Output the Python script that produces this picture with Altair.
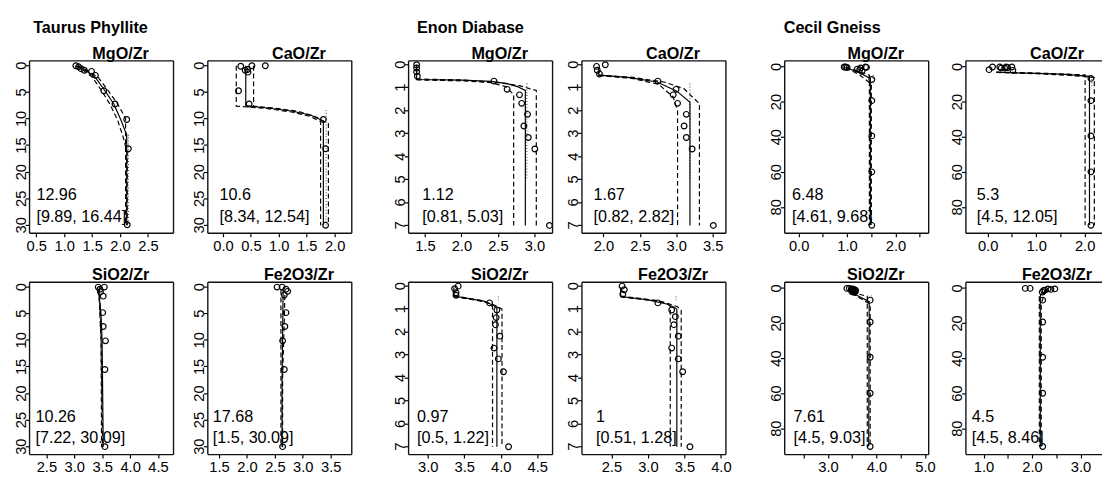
import altair as alt
import pandas as pd

FONT = "Liberation Sans"

# ---------------- Taurus Phyllite ----------------
tp_mgo_x = [1.20, 1.25, 1.29, 1.35, 1.48, 1.55, 1.70, 1.90, 2.11, 2.14, 2.12]
tp_mgo_d = [0.0, 0.2, 0.55, 0.85, 1.05, 1.8, 4.7, 7.2, 10.1, 15.6, 29.9]
tp_mgo_fit = [[1.21, 0.0], [1.39, 1.0], [1.55, 2.2], [1.72, 4.7], [1.88, 7.2], [2.01, 10.3], [2.08, 12.2], [2.11, 12.96], [2.11, 30.0]]
tp_mgo_lo = [[1.20, 0.0], [1.35, 1.0], [1.50, 2.2], [1.66, 4.7], [1.81, 7.2], [1.95, 10.3], [2.05, 13.5], [2.12, 16.44], [2.12, 30.0]]
tp_mgo_hi = [[1.23, 0.0], [1.43, 1.0], [1.60, 2.2], [1.78, 4.7], [1.95, 7.2], [2.09, 9.89], [2.09, 30.0]]
tp_mgo_dot = [[2.14, 12.96], [2.14, 30.0]]
tp_mgo_txt = ["12.96", "[9.89, 16.44]"]

tp_cao_x = [0.31, 0.39, 0.43, 0.44, 0.51, 0.75, 0.27, 0.46, 1.79, 1.83, 1.83]
tp_cao_d = [0.1, 0.85, 0.7, 1.2, 0.0, 0.0, 4.7, 7.2, 10.1, 15.6, 30.0]
tp_cao_fit = [[0.40, 0.0], [0.40, 7.5], [0.75, 7.9], [1.22, 8.5], [1.57, 9.3], [1.79, 10.4], [1.79, 30.0]]
tp_cao_lo = [[0.23, 0.0], [0.23, 7.6], [0.75, 8.0], [1.22, 8.7], [1.55, 9.5], [1.74, 10.5], [1.74, 30.0]]
tp_cao_hi = [[0.54, 0.0], [0.54, 7.6], [0.95, 8.0], [1.35, 8.6], [1.65, 9.6], [1.88, 10.9], [1.88, 30.0]]
tp_cao_dot = [[1.84, 8.3], [1.84, 30.0]]
tp_cao_txt = ["10.6", "[8.34, 12.54]"]

tp_sio2_x = [3.42, 3.53, 3.45, 3.46, 3.51, 3.50, 3.51, 3.55, 3.54, 3.54]
tp_sio2_d = [0.0, 0.0, 0.4, 0.9, 1.7, 4.8, 7.4, 10.1, 15.5, 30.0]
tp_sio2_fit = [[3.42, 0.3], [3.47, 5.0], [3.49, 10.26], [3.51, 30.0]]
tp_sio2_lo = [[3.44, 0.0], [3.47, 7.22], [3.48, 30.0]]
tp_sio2_hi = [[3.43, 0.5], [3.47, 10.0], [3.50, 30.09]]
tp_sio2_dot = []
tp_sio2_txt = ["10.26", "[7.22, 30.09]"]

tp_fe_x = [2.53, 2.62, 2.69, 2.72, 2.66, 2.69, 2.67, 2.63, 2.66, 2.63]
tp_fe_d = [0.0, 0.0, 0.4, 0.8, 1.5, 4.8, 7.4, 10.1, 15.5, 30.0]
tp_fe_fit = [[2.64, 0.3], [2.62, 17.68], [2.62, 30.0]]
tp_fe_lo = [[2.60, 0.5], [2.60, 30.0]]
tp_fe_hi = [[2.67, 1.5], [2.66, 6.0], [2.63, 17.0], [2.63, 30.09]]
tp_fe_dot = []
tp_fe_txt = ["17.68", "[1.5, 30.09]"]

# ---------------- Enon Diabase ----------------
ed_mgo_x = [1.38, 1.38, 1.38, 1.39, 2.44, 2.62, 2.79, 2.82, 2.90, 2.85, 2.91, 3.00, 3.20]
ed_mgo_d = [0.0, 0.14, 0.31, 0.5, 0.71, 1.07, 1.31, 1.68, 2.16, 2.67, 3.17, 3.67, 7.0]
ed_mgo_fit = [[1.38, 0.0], [1.38, 0.64], [2.0, 0.67], [2.4, 0.72], [2.62, 0.82], [2.76, 0.95], [2.87, 1.12], [2.87, 7.0]]
ed_mgo_lo = [[1.38, 0.66], [2.0, 0.70], [2.4, 0.78], [2.6, 0.95], [2.71, 1.3], [2.71, 7.0]]
ed_mgo_hi = [[1.38, 0.62], [2.0, 0.66], [2.52, 0.78], [2.8, 0.92], [3.02, 1.12], [3.02, 7.0]]
ed_mgo_dot = [[2.89, 0.81], [2.89, 5.03]]
ed_mgo_txt = ["1.12", "[0.81, 5.03]"]

ed_cao_x = [1.90, 2.02, 1.91, 1.94, 2.74, 2.99, 2.95, 3.01, 3.13, 3.10, 3.13, 3.21, 3.50]
ed_cao_d = [0.07, 0.0, 0.24, 0.4, 0.71, 1.07, 1.31, 1.68, 2.16, 2.67, 3.17, 3.67, 7.0]
ed_cao_fit = [[1.93, 0.1], [1.93, 0.45], [2.33, 0.55], [2.73, 0.75], [3.0, 1.15], [3.18, 1.63], [3.18, 7.0]]
ed_cao_lo = [[1.93, 0.47], [2.4, 0.60], [2.75, 0.85], [2.95, 1.4], [3.01, 2.0], [3.01, 7.0]]
ed_cao_hi = [[1.93, 0.45], [2.4, 0.55], [2.84, 0.76], [3.1, 1.05], [3.31, 1.7], [3.31, 7.0]]
ed_cao_dot = [[3.18, 0.82], [3.18, 5.0]]
ed_cao_txt = ["1.67", "[0.82, 2.82]"]

ed_sio2_x = [3.41, 3.36, 3.38, 3.38, 3.84, 3.94, 3.93, 3.92, 3.98, 3.90, 3.96, 4.03, 4.10]
ed_sio2_d = [0.0, 0.11, 0.29, 0.4, 0.73, 1.04, 1.37, 1.68, 2.18, 2.70, 3.17, 3.73, 7.0]
ed_sio2_fit = [[3.35, 0.05], [3.35, 0.43], [3.76, 0.65], [3.90, 0.85], [3.94, 0.97], [3.94, 7.0]]
ed_sio2_lo = [[3.35, 0.42], [3.72, 0.62], [3.85, 0.78], [3.88, 0.9], [3.88, 7.0]]
ed_sio2_hi = [[3.35, 0.45], [3.80, 0.70], [3.96, 0.9], [4.01, 1.0], [4.01, 7.0]]
ed_sio2_dot = [[3.96, 0.45], [3.96, 0.62]]
ed_sio2_txt = ["0.97", "[0.5, 1.22]"]

ed_fe_x = [2.64, 2.67, 2.65, 3.13, 3.32, 3.37, 3.35, 3.41, 3.32, 3.41, 3.47, 3.57]
ed_fe_d = [0.0, 0.16, 0.35, 0.73, 1.04, 1.33, 1.68, 2.18, 2.70, 3.17, 3.73, 7.0]
ed_fe_fit = [[2.62, 0.05], [2.62, 0.45], [3.0, 0.6], [3.25, 0.78], [3.35, 0.92], [3.39, 1.0], [3.39, 7.0]]
ed_fe_lo = [[2.62, 0.43], [3.1, 0.62], [3.28, 0.8], [3.30, 0.9], [3.30, 7.0]]
ed_fe_hi = [[2.62, 0.47], [3.2, 0.68], [3.40, 0.9], [3.45, 1.05], [3.45, 7.0]]
ed_fe_dot = [[3.38, 0.45], [3.38, 0.62]]
ed_fe_txt = ["1", "[0.51, 1.28]"]

# ---------------- Cecil Gneiss ----------------
cg_mgo_x = [0.93, 0.96, 0.99, 1.27, 1.37, 1.39, 1.25, 1.30, 1.20, 1.50, 1.50, 1.50, 1.50, 1.50]
cg_mgo_d = [0.0, 0.0, 0.3, 0.5, 0.0, 0.2, 1.5, 2.4, 1.2, 7.1, 19.2, 39.3, 59.8, 90.3]
cg_mgo_fit = [[0.96, 0.3], [1.22, 3.0], [1.47, 6.48], [1.47, 90.3]]
cg_mgo_lo = [[0.96, 0.2], [1.27, 2.8], [1.45, 4.61], [1.45, 90.3]]
cg_mgo_hi = [[0.96, 0.4], [1.25, 4.5], [1.49, 9.68], [1.49, 90.3]]
cg_mgo_dot = [[1.53, 4.6], [1.53, 9.7]]
cg_mgo_txt = ["6.48", "[4.61, 9.68]"]

cg_cao_x = [0.02, 0.09, 0.24, 0.27, 0.34, 0.37, 0.40, 0.49, 0.51, 2.12, 2.12, 2.12, 2.12, 2.12]
cg_cao_d = [1.5, 0.0, 0.0, 0.6, 0.6, 0.0, 0.3, 0.0, 1.9, 6.5, 19.2, 39.3, 59.8, 90.3]
cg_cao_fit = [[0.17, 3.0], [1.0, 3.6], [1.6, 4.2], [2.09, 5.3], [2.09, 90.3]]
cg_cao_lo = [[0.17, 2.9], [1.0, 3.4], [2.0, 4.5], [2.0, 90.3]]
cg_cao_hi = [[0.17, 3.1], [1.0, 3.8], [1.7, 4.8], [2.19, 6.0], [2.19, 90.3]]
cg_cao_dot = [[2.14, 5.3], [2.14, 12.05]]
cg_cao_txt = ["5.3", "[4.5, 12.05]"]

cg_sio2_x = [3.38, 3.43, 3.47, 3.50, 3.53, 3.55, 3.52, 3.50, 3.54, 3.56, 3.48, 3.86, 3.86, 3.86, 3.86, 3.86]
cg_sio2_d = [0.0, 0.0, 0.5, 1.0, 1.5, 2.0, 2.3, 0.3, 0.8, 1.2, 1.8, 6.7, 19.2, 39.3, 59.8, 90.2]
cg_sio2_fit = [[3.48, 0.5], [3.48, 2.5], [3.84, 7.61], [3.83, 90.2]]
cg_sio2_lo = [[3.48, 2.3], [3.80, 4.5], [3.80, 90.2]]
cg_sio2_hi = [[3.48, 2.7], [3.86, 9.03], [3.86, 90.2]]
cg_sio2_dot = [[3.88, 4.0], [3.88, 5.5]]
cg_sio2_txt = ["7.61", "[4.5, 9.03]"]

cg_fe_x = [1.85, 1.95, 2.26, 2.32, 2.38, 2.46, 2.20, 2.23, 2.21, 2.21, 2.21, 2.21, 2.21]
cg_fe_d = [0.0, 0.0, 1.0, 0.3, 0.6, 0.3, 2.1, 1.2, 6.7, 19.2, 39.3, 59.8, 90.2]
cg_fe_fit = [[2.30, 0.8], [2.17, 3.5], [2.16, 4.5], [2.16, 90.2]]
cg_fe_lo = [[2.14, 4.5], [2.14, 90.2]]
cg_fe_hi = [[2.28, 1.0], [2.18, 8.46], [2.18, 90.2]]
cg_fe_dot = []
cg_fe_txt = ["4.5", "[4.5, 8.46]"]

# ---------------- layout helpers ----------------
H = 176
TP_Y = [-0.92, 31.49]
ED_Y = [-0.171, 7.34]
CG_Y = [-3.52, 94.8]
TP_YT = [0, 5, 10, 15, 20, 25, 30]
ED_YT = [0, 1, 2, 3, 4, 5, 6, 7]
CG_YT = [0, 20, 40, 60, 80]


def make_lines(lines):
    rows = []
    for k, line in enumerate(lines):
        for i, (x, d) in enumerate(line):
            rows.append({"x": x, "d": d, "s": k, "i": i})
    return pd.DataFrame(rows)


def frame_rule(one, **enc):
    return alt.Chart(one).mark_rule(color="#111111", strokeWidth=1.4).encode(**enc)


def panel(px, pdp, fit, lo, hi, dot, txt, title, lay):
    W = lay["w"]
    xa = dict(values=lay["xt"], grid=False, domain=False, tickSize=4, tickColor="black",
              tickWidth=1.2, labelColor="black", labelFont=FONT, labelFontSize=15,
              labelPadding=2, labelOverlap=False, labelFlush=False, minExtent=lay["xe"],
              translate=0)
    if lay.get("half"):
        xa["labelExpr"] = "abs(datum.value - round(datum.value)) < 0.01 ? format(datum.value, '.1f') : ''"
    else:
        xa["format"] = ".1f"
    X = alt.X("x:Q", title=None,
              scale=alt.Scale(domain=lay["xd"], nice=False, zero=False),
              axis=alt.Axis(**xa))
    Y = alt.Y("d:Q", title=None,
              scale=alt.Scale(domain=lay["yd"], nice=False, zero=False, reverse=True),
              axis=alt.Axis(values=lay["yt"], format="d", grid=False, domain=False,
                            tickSize=4, tickColor="black", tickWidth=1.2, labelColor="black",
                            labelFont=FONT, labelFontSize=15, labelAngle=270,
                            labelAlign="center", labelBaseline="alphabetic",
                            labelPadding=0, labelOverlap=False, minExtent=lay["ye"],
                            translate=0))
    one = pd.DataFrame({"k": [0]})
    layers = [alt.Chart(one).mark_rule(opacity=0).encode(
        x=alt.value(W / 2), y=alt.value(-lay["te"]), y2=alt.value(0))]
    for group, dash, col in [([lo, hi], [5, 3], "black"), ([dot], [1, 2], "#555555"),
                             ([fit], None, "black")]:
        lines = [l for l in group if l]
        if not lines:
            continue
        kw = dict(color=col, strokeWidth=1.2, clip=True)
        if dash:
            kw["strokeDash"] = dash
        layers.append(alt.Chart(make_lines(lines)).mark_line(**kw).encode(
            x=X, y=Y, detail="s:N", order="i:Q"))
    layers.append(alt.Chart(pd.DataFrame({"x": px, "d": pdp})).mark_point(
        shape="circle", filled=False, color="black", size=34, strokeWidth=1.2,
        opacity=1, clip=True).encode(x=X, y=Y))
    for j, t in enumerate(txt):
        layers.append(alt.Chart(one).mark_text(
            align="left", baseline="middle", font=FONT, fontSize=16.5, color="black").encode(
            x=alt.value(lay["ax"]), y=alt.value(137.5 if j == 0 else 159.5), text=alt.value(t)))
    layers.append(alt.Chart(one).mark_text(
        align="center", baseline="alphabetic", font=FONT, fontSize=16.5,
        fontWeight="bold", color="black").encode(
        x=alt.value(93), y=alt.value(-2), text=alt.value(title)))
    if lay.get("gt"):
        layers.append(alt.Chart(one).mark_text(
            align="left", baseline="middle", font=FONT, fontSize=16.5,
            fontWeight="bold", color="black").encode(
            x=alt.value(lay["gx"]), y=alt.value(-33.5), text=alt.value(lay["gt"])))
    # plot frame (box)
    layers.append(frame_rule(one, x=alt.value(0), y=alt.value(0), y2=alt.value(H)))
    layers.append(frame_rule(one, x=alt.value(0), x2=alt.value(W), y=alt.value(0)))
    layers.append(frame_rule(one, x=alt.value(0), x2=alt.value(W), y=alt.value(H)))
    if not lay.get("last"):
        layers.append(frame_rule(one, x=alt.value(W), y=alt.value(0), y2=alt.value(H)))
    return alt.layer(*layers).properties(width=W, height=H)


def top(d):
    d.update(xe=24, te=48.5)
    return d


def bot(d):
    d.update(xe=0, te=22)
    return d


col_ext = [21.5, 32.0, 55.0, 27.0, 52.27, 28.9]

tp1 = panel(tp_mgo_x, tp_mgo_d, tp_mgo_fit, tp_mgo_lo, tp_mgo_hi, tp_mgo_dot, tp_mgo_txt, "MgO/Zr",
            top(dict(w=147, xd=[0.37, 2.949], xt=[0.5, 1.0, 1.5, 2.0, 2.5], yd=TP_Y, yt=TP_YT,
                     ye=col_ext[0], ax=7, gt="Taurus Phyllite", gx=3.7)))
tp3 = panel(tp_sio2_x, tp_sio2_d, tp_sio2_fit, tp_sio2_lo, tp_sio2_hi, tp_sio2_dot, tp_sio2_txt, "SiO2/Zr",
            bot(dict(w=147, xd=[2.19, 4.769], xt=[2.5, 3.0, 3.5, 4.0, 4.5], yd=TP_Y, yt=TP_YT,
                     ye=col_ext[0], ax=6)))
tp2 = panel(tp_cao_x, tp_cao_d, tp_cao_fit, tp_cao_lo, tp_cao_hi, tp_cao_dot, tp_cao_txt, "CaO/Zr",
            top(dict(w=147, xd=[-0.28, 2.299], xt=[0.0, 0.5, 1.0, 1.5, 2.0], yd=TP_Y, yt=TP_YT,
                     ye=col_ext[1], ax=12)))
tp4 = panel(tp_fe_x, tp_fe_d, tp_fe_fit, tp_fe_lo, tp_fe_hi, tp_fe_dot, tp_fe_txt, "Fe2O3/Zr",
            bot(dict(w=147, xd=[1.29, 3.869], xt=[1.5, 2.0, 2.5, 3.0, 3.5], yd=TP_Y, yt=TP_YT,
                     ye=col_ext[1], ax=5)))

ed1 = panel(ed_mgo_x, ed_mgo_d, ed_mgo_fit, ed_mgo_lo, ed_mgo_hi, ed_mgo_dot, ed_mgo_txt, "MgO/Zr",
            top(dict(w=147, xd=[1.27, 3.243], xt=[1.5, 2.0, 2.5, 3.0], yd=ED_Y, yt=ED_YT,
                     ye=col_ext[2], ax=14, gt="Enon Diabase", gx=8.6)))
ed3 = panel(ed_sio2_x, ed_sio2_d, ed_sio2_fit, ed_sio2_lo, ed_sio2_hi, ed_sio2_dot, ed_sio2_txt, "SiO2/Zr",
            bot(dict(w=147, xd=[2.73, 4.703], xt=[3.0, 3.5, 4.0, 4.5], yd=ED_Y, yt=ED_YT,
                     ye=col_ext[2], ax=8.6)))
ed2 = panel(ed_cao_x, ed_cao_d, ed_cao_fit, ed_cao_lo, ed_cao_hi, ed_cao_dot, ed_cao_txt, "CaO/Zr",
            top(dict(w=147, xd=[1.70, 3.673], xt=[2.0, 2.5, 3.0, 3.5], yd=ED_Y, yt=ED_YT,
                     ye=col_ext[3], ax=11.7)))
ed4 = panel(ed_fe_x, ed_fe_d, ed_fe_fit, ed_fe_lo, ed_fe_hi, ed_fe_dot, ed_fe_txt, "Fe2O3/Zr",
            bot(dict(w=147, xd=[2.09, 4.063], xt=[2.5, 3.0, 3.5, 4.0], yd=ED_Y, yt=ED_YT,
                     ye=col_ext[3], ax=14.3)))

cg1 = panel(cg_mgo_x, cg_mgo_d, cg_mgo_fit, cg_mgo_lo, cg_mgo_hi, cg_mgo_dot, cg_mgo_txt, "MgO/Zr",
            top(dict(w=147, xd=[-0.297, 2.673], xt=[0.0, 0.5, 1.0, 1.5, 2.0, 2.5], half=True,
                     yd=CG_Y, yt=CG_YT, ye=col_ext[4], ax=7.4, gt="Cecil Gneiss", gx=-1)))
cg3 = panel(cg_sio2_x, cg_sio2_d, cg_sio2_fit, cg_sio2_lo, cg_sio2_hi, cg_sio2_dot, cg_sio2_txt, "SiO2/Zr",
            bot(dict(w=147, xd=[2.097, 5.067], xt=[2.5, 3.0, 3.5, 4.0, 4.5, 5.0], half=True,
                     yd=CG_Y, yt=CG_YT, ye=col_ext[4], ax=9)))
cg2 = panel(cg_cao_x, cg_cao_d, cg_cao_fit, cg_cao_lo, cg_cao_hi, cg_cao_dot, cg_cao_txt, "CaO/Zr",
            top(dict(w=139, xd=[-0.459, 2.349], xt=[0.0, 0.5, 1.0, 1.5, 2.0], half=True,
                     yd=CG_Y, yt=CG_YT, ye=col_ext[5], ax=11, last=True)))
cg4 = panel(cg_fe_x, cg_fe_d, cg_fe_fit, cg_fe_lo, cg_fe_hi, cg_fe_dot, cg_fe_txt, "Fe2O3/Zr",
            bot(dict(w=139, xd=[0.626, 3.434], xt=[1.0, 1.5, 2.0, 2.5, 3.0], half=True,
                     yd=CG_Y, yt=CG_YT, ye=col_ext[5], ax=6, last=True)))

cols = [alt.vconcat(a, b, spacing=2) for a, b in
        [(tp1, tp3), (tp2, tp4), (ed1, ed3), (ed2, ed4), (cg1, cg3), (cg2, cg4)]]

chart = alt.hconcat(*cols, spacing=0).properties(
    padding={"left": 0, "top": 0, "right": 0, "bottom": 0}
).configure(font=FONT).configure_view(stroke="transparent")

chart.save("out.html", embed_options={"renderer": "svg", "actions": False})
